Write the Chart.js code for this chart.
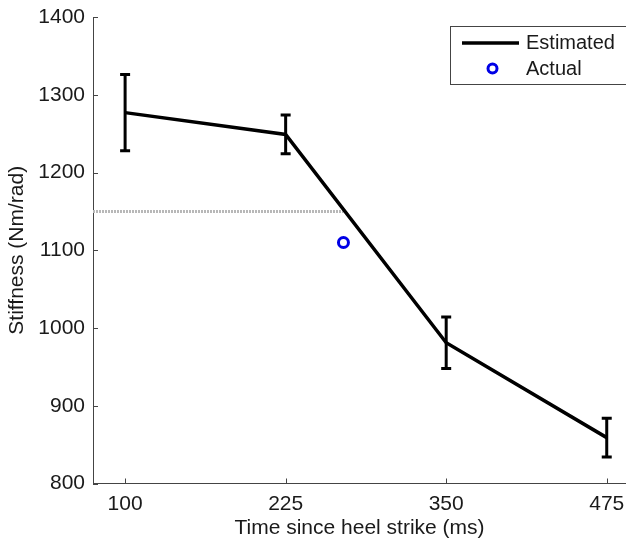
<!DOCTYPE html>
<html>
<head>
<meta charset="utf-8">
<script src="https://cdn.jsdelivr.net/npm/chart.js@4.4.1/dist/chart.umd.min.js"></script>
<style>
  html, body { margin: 0; padding: 0; background: #fff; overflow: hidden; }
  #wrap { width: 626px; height: 542px; }
</style>
</head>
<body>
<div id="wrap"><canvas id="stiffChart" width="626" height="542"></canvas></div>
<script>
// data
const times = [100, 225, 350, 475];
const stiffness = [1277, 1249, 981, 859];
const stiffnessErr = [49, 25, 33, 25];

const actualTime = [270];
const actualStiffness = [1110];

// light grey reference line, runs from the left edge up to the actual point
const refLineTimes = [75, 270];
const refLineValue = [1150, 1150];

const xTicks = [100, 225, 350, 475];
const xRange = [75, 490];
const yRange = [800, 1400];

const FONT = "'Liberation Sans', Arial, sans-serif";
const TEXT = '#1a1a1a';
const AXIS = '#444';

// error bars drawn through the chart's scales
const errorBars = {
    id: 'errorBars',
    afterDatasetsDraw(chart) {
        const ctx = chart.ctx;
        const xs = chart.scales.x, ys = chart.scales.y;
        ctx.save();
        ctx.strokeStyle = '#000';
        ctx.lineWidth = 3;
        ctx.lineCap = 'butt';
        times.forEach((t, i) => {
            const px = xs.getPixelForValue(t);
            const top = ys.getPixelForValue(stiffness[i] + stiffnessErr[i]);
            const bot = ys.getPixelForValue(stiffness[i] - stiffnessErr[i]);
            ctx.beginPath();
            ctx.moveTo(px, top); ctx.lineTo(px, bot);
            ctx.moveTo(px - 5, top); ctx.lineTo(px + 5, top);
            ctx.moveTo(px - 5, bot); ctx.lineTo(px + 5, bot);
            ctx.stroke();
        });
        ctx.restore();
    }
};

// inward tick marks + boxed legend like the matlab figure
const decorations = {
    id: 'decorations',
    afterDraw(chart) {
        const ctx = chart.ctx;
        const xs = chart.scales.x, ys = chart.scales.y;
        const area = chart.chartArea;
        ctx.save();
        ctx.strokeStyle = AXIS;
        ctx.lineWidth = 1;
        ctx.beginPath();
        xs.ticks.forEach(tk => {
            const px = Math.round(xs.getPixelForValue(tk.value)) + 0.5;
            ctx.moveTo(px, area.bottom); ctx.lineTo(px, area.bottom - 5);
        });
        ys.ticks.forEach(tk => {
            const py = Math.round(ys.getPixelForValue(tk.value)) + 0.5;
            ctx.moveTo(area.left, py); ctx.lineTo(area.left + 5, py);
        });
        ctx.stroke();

        // legend box
        const bx = 450.5, by = 26.5, bw = 200, bh = 58;
        ctx.fillStyle = '#fff';
        ctx.fillRect(bx, by, bw, bh);
        ctx.strokeStyle = AXIS;
        ctx.strokeRect(bx, by, bw, bh);

        const ds = chart.data.datasets;
        ctx.strokeStyle = '#000';
        ctx.lineWidth = 3.5;
        ctx.beginPath();
        ctx.moveTo(462, 43); ctx.lineTo(519, 43);
        ctx.stroke();

        ctx.strokeStyle = '#0000e6';
        ctx.lineWidth = 3;
        ctx.beginPath();
        ctx.arc(492.5, 68.5, 4.5, 0, Math.PI * 2);
        ctx.stroke();

        ctx.fillStyle = TEXT;
        ctx.font = '20px ' + FONT;
        ctx.textBaseline = 'middle';
        ctx.textAlign = 'left';
        ctx.fillText(ds[0].label, 526, 43);
        ctx.fillText(ds[1].label, 526, 69);
        ctx.restore();
    }
};

const ctx = document.getElementById('stiffChart').getContext('2d');

new Chart(ctx, {
    type: 'line',
    data: {
        datasets: [
            {
                label: 'Estimated',
                data: times.map((t, i) => ({ x: t, y: stiffness[i] })),
                borderColor: '#000',
                borderWidth: 3.5,
                pointRadius: 0,
                fill: false,
                tension: 0
            },
            {
                label: 'Actual',
                data: actualTime.map((t, i) => ({ x: t, y: actualStiffness[i] })),
                showLine: false,
                pointStyle: 'circle',
                pointRadius: 5,
                pointBorderWidth: 3,
                pointBorderColor: '#0000e6',
                pointBackgroundColor: '#fff'
            },
            {
                label: 'reference',
                data: refLineTimes.map((t, i) => ({ x: t, y: refLineValue[i] })),
                borderColor: '#b8b8b8',
                borderWidth: 3,
                borderDash: [2, 1],
                pointRadius: 0,
                fill: false
            }
        ]
    },
    options: {
        responsive: false,
        animation: false,
        layout: { autoPadding: false, padding: { top: 17, right: 0, left: 0, bottom: 0 } },
        plugins: {
            legend: { display: false },
            tooltip: { enabled: false }
        },
        scales: {
            x: {
                type: 'linear',
                min: xRange[0],
                max: xRange[1],
                afterBuildTicks: (scale) => {
                    scale.ticks = xTicks.map(v => ({ value: v }));
                },
                afterFit: (scale) => {
                    scale.height = 58.5;
                    scale.paddingLeft = 0;
                    scale.paddingRight = 0;
                },
                grid: { drawOnChartArea: false, drawTicks: false },
                border: { display: true, color: AXIS, width: 1 },
                ticks: {
                    color: TEXT,
                    padding: 8,
                    maxRotation: 0,
                    callback: (v) => String(v),
                    font: { family: FONT, size: 21 }
                },
                title: {
                    display: true,
                    text: 'Time since heel strike (ms)',
                    color: TEXT,
                    padding: { top: 0, bottom: 1 },
                    font: { family: FONT, size: 21 }
                }
            },
            y: {
                min: yRange[0],
                max: yRange[1],
                afterFit: (scale) => {
                    scale.width = 93;
                    scale.paddingTop = 0;
                    scale.paddingBottom = 0;
                },
                grid: { drawOnChartArea: false, drawTicks: false },
                border: { display: true, color: AXIS, width: 1 },
                ticks: {
                    stepSize: 100,
                    color: TEXT,
                    padding: 8,
                    callback: (v) => String(v),
                    font: { family: FONT, size: 21 }
                },
                title: {
                    display: true,
                    text: 'Stiffness (Nm/rad)',
                    color: TEXT,
                    padding: { top: 5, bottom: 0 },
                    font: { family: FONT, size: 21 }
                }
            }
        }
    },
    plugins: [errorBars, decorations]
});
</script>
</body>
</html>
